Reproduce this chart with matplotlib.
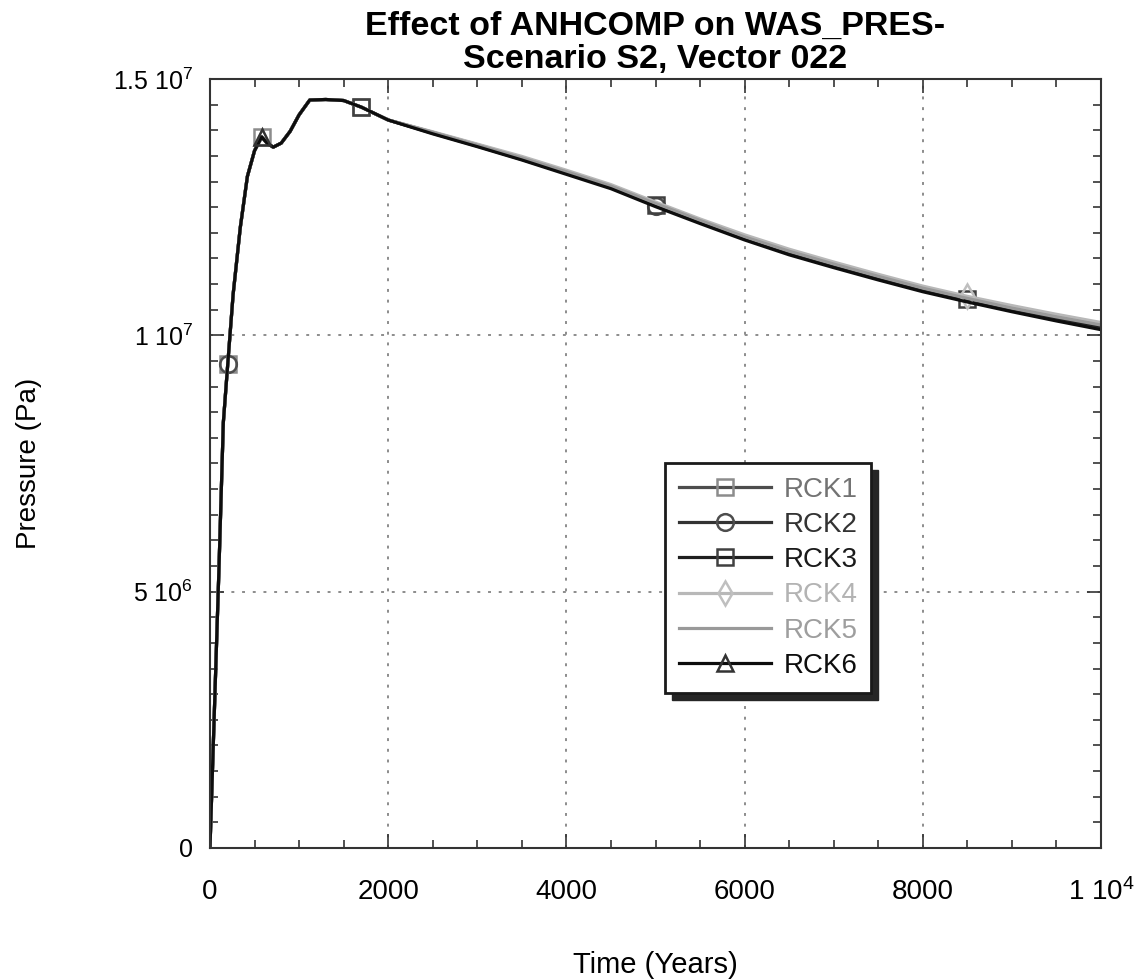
import matplotlib
matplotlib.use('Agg')
import matplotlib.pyplot as plt
from matplotlib.ticker import MultipleLocator, FuncFormatter
from matplotlib.patches import Rectangle

plt.rcParams['font.family'] = ['Liberation Sans', 'DejaVu Sans']
plt.rcParams['mathtext.fontset'] = 'custom'
plt.rcParams['mathtext.rm'] = 'Liberation Sans'
plt.rcParams['mathtext.default'] = 'regular'

# time grid (years)
t_early = [0, 50, 100, 150, 200, 260, 340, 420, 500, 580, 640, 710, 800, 900,
           1000, 1120, 1300, 1500, 1700]
t_late = [2000, 2500, 3000, 3500, 4000, 4500, 5000, 5500, 6000, 6500, 7000,
          7500, 8000, 8500, 9000, 9500, 10000]

# pressure, 1e6 Pa (all vectors coincide early on)
p_early = [0, 2.7, 5.4, 8.3, 9.45, 10.8, 12.1, 13.1, 13.6, 13.87, 13.75, 13.67,
           13.75, 13.98, 14.3, 14.59, 14.6, 14.58, 14.45]

p_late = {
    'RCK1': [14.2, 13.96, 13.72, 13.47, 13.2, 12.92, 12.58, 12.25, 11.93, 11.65,
             11.4, 11.16, 10.93, 10.73, 10.55, 10.38, 10.22],
    'RCK2': [14.2, 13.94, 13.69, 13.43, 13.16, 12.88, 12.53, 12.2, 11.88, 11.6,
             11.35, 11.11, 10.88, 10.68, 10.49, 10.31, 10.15],
    'RCK3': [14.2, 13.95, 13.7, 13.45, 13.18, 12.9, 12.55, 12.22, 11.9, 11.62,
             11.37, 11.13, 10.9, 10.7, 10.51, 10.34, 10.18],
    'RCK4': [14.2, 13.97, 13.73, 13.49, 13.22, 12.94, 12.6, 12.27, 11.96, 11.68,
             11.43, 11.19, 10.96, 10.76, 10.58, 10.41, 10.25],
    'RCK5': [14.2, 13.96, 13.71, 13.46, 13.19, 12.91, 12.57, 12.24, 11.92, 11.64,
             11.39, 11.15, 10.92, 10.72, 10.53, 10.36, 10.2],
    'RCK6': [14.2, 13.93, 13.68, 13.42, 13.14, 12.86, 12.51, 12.18, 11.86, 11.57,
             11.32, 11.08, 10.85, 10.65, 10.46, 10.28, 10.11],
}

# style per vector: line colour, text colour, marker, marked point indices, marker colour
styles = {
    'RCK1': ('0.3', '0.45', 's', [4, 9, 18], '0.55'),
    'RCK2': ('0.2', '0.2', 'o', [4, 25], '0.3'),
    'RCK3': ('0.12', '0.1', 's', [18, 25, 32], '0.25'),
    'RCK4': ('0.72', '0.7', 'd', [32], '0.75'),
    'RCK5': ('0.6', '0.62', None, [], '0.6'),
    'RCK6': ('0.05', '0.05', '^', [9], '0.2'),
}

times = t_early + t_late

fig = plt.figure(figsize=(11.43, 9.80), dpi=100)
ax = fig.add_axes([0.1837, 0.1347, 0.7796, 0.7847])

for name, vals in p_late.items():
    lc, tc, mk, every, mc = styles[name]
    pres = [v * 1e6 for v in p_early + vals]
    ax.plot(times, pres, color=lc, lw=2.3, marker=mk if mk else 'None',
            markevery=every, markersize=12, markerfacecolor='none',
            markeredgecolor=mc, markeredgewidth=1.8, label=name)

ax.set_xlim(0, 10000)
ax.set_ylim(0, 1.5e7)
ax.xaxis.set_major_locator(MultipleLocator(2000))
ax.xaxis.set_minor_locator(MultipleLocator(500))
ax.yaxis.set_major_locator(MultipleLocator(5e6))
ax.yaxis.set_minor_locator(MultipleLocator(5e5))


def xfmt(v, pos):
    if v >= 10000:
        return r'1 10$^{4}$'
    return '%d' % v


def yfmt(v, pos):
    if v == 0:
        return '0'
    if v >= 1.5e7:
        return r'1.5 10$^{7}$'
    if v >= 1e7:
        return r'1 10$^{7}$'
    return r'5 10$^{6}$'


ax.xaxis.set_major_formatter(FuncFormatter(xfmt))
ax.yaxis.set_major_formatter(FuncFormatter(yfmt))

ax.tick_params(which='both', direction='in', top=True, right=True,
               color='0.2', width=1.2)
ax.tick_params(which='major', length=10)
ax.tick_params(which='minor', length=6)
ax.tick_params(axis='x', labelsize=20, pad=22)
ax.tick_params(axis='y', labelsize=18, pad=12)
for s in ax.spines.values():
    s.set_linewidth(1.5)
    s.set_color('0.2')

ax.grid(True, which='major', linestyle=(0, (1.5, 4)), color='0.55', lw=1.4)

ax.set_xlabel('Time (Years)', fontsize=21, labelpad=32)
ax.set_ylabel('Pressure (Pa)', fontsize=20, labelpad=51)
ax.set_title('Effect of ANHCOMP on WAS_PRES-\nScenario S2, Vector 022',
             fontsize=24.5, fontweight='bold', pad=8, linespacing=1.1)

leg = ax.legend(loc='upper left', bbox_to_anchor=(0.511, 0.5007),
                borderaxespad=0, fontsize=20, handlelength=3.3,
                handletextpad=0.45, labelspacing=0.33, borderpad=0.5,
                fancybox=False, framealpha=1, edgecolor='0.1')
leg.get_frame().set_linewidth(2)
for txt, name in zip(leg.get_texts(), p_late):
    txt.set_color(styles[name][1])

fig.canvas.draw()
bb = leg.get_window_extent()
ax.add_patch(Rectangle((bb.x0 + 7, bb.y0 - 7), bb.width, bb.height,
                       transform=None, color='0.15', zorder=4.5,
                       clip_on=False))

fig.savefig('out.png', dpi=100)
